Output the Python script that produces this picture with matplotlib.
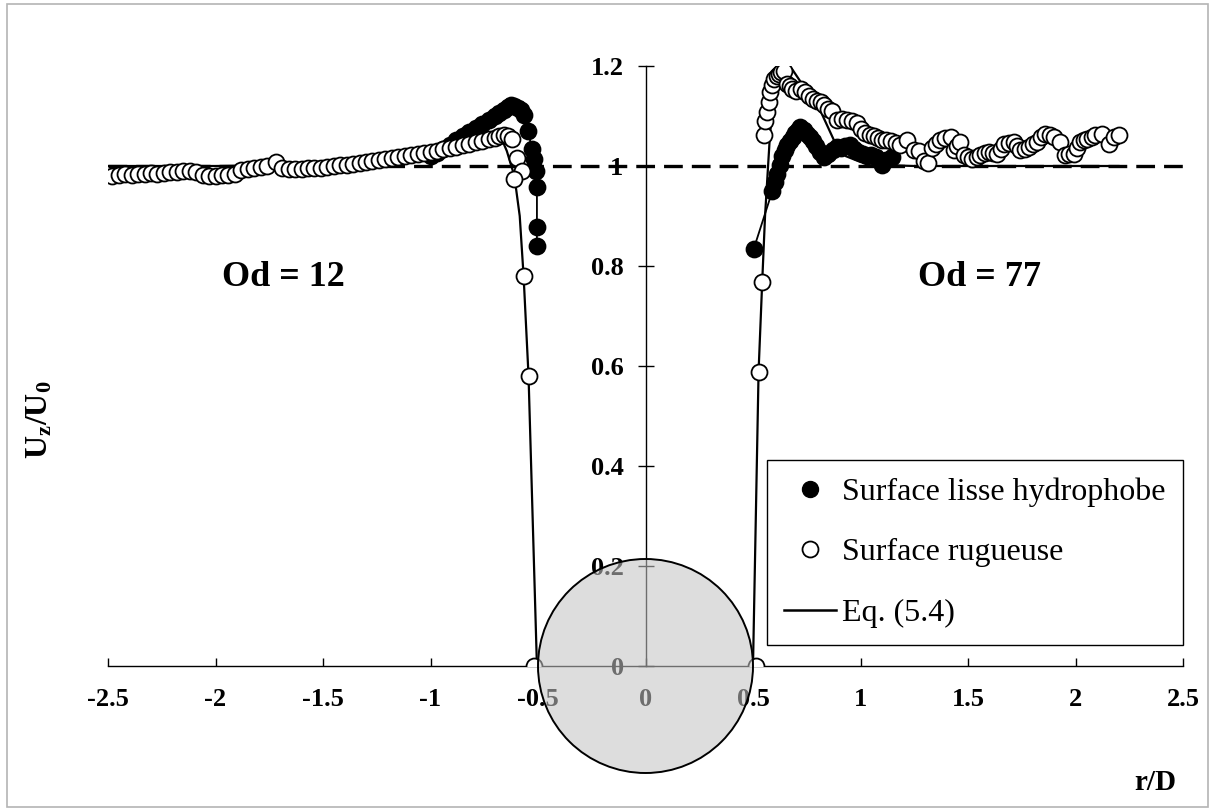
import matplotlib
matplotlib.use("Agg")
import matplotlib.pyplot as plt
from matplotlib.lines import Line2D
from matplotlib.patches import Ellipse, Rectangle

plt.rcParams["font.family"] = ["Liberation Serif", "DejaVu Serif"]
plt.rcParams["mathtext.fontset"] = "custom"
plt.rcParams["mathtext.rm"] = "Liberation Serif"
plt.rcParams["mathtext.bf"] = "Liberation Serif:bold"
plt.rcParams["mathtext.it"] = "Liberation Serif:italic"
plt.rcParams["lines.scale_dashes"] = False

# ---- data ----
# Od = 12, surface rugueuse (open markers)
rug12_x = [-2.48, -2.45, -2.42, -2.39, -2.36, -2.33, -2.30, -2.27, -2.24, -2.21,
           -2.18, -2.15, -2.12, -2.09, -2.06, -2.03, -2.00, -1.97, -1.94, -1.91,
           -1.88, -1.85, -1.82, -1.79, -1.76, -1.72, -1.69, -1.66, -1.63, -1.60,
           -1.57, -1.54, -1.51, -1.48, -1.45, -1.42, -1.39, -1.36, -1.33, -1.30,
           -1.27, -1.24, -1.21, -1.18, -1.15, -1.12, -1.09, -1.06, -1.03, -1.00,
           -0.97, -0.94, -0.91, -0.88, -0.85, -0.82, -0.79, -0.76, -0.73, -0.70,
           -0.68, -0.66, -0.64, -0.62, -0.60, -0.575, -0.61, -0.567, -0.544, -0.52]
rug12_y = [0.980, 0.982, 0.984, 0.983, 0.985, 0.984, 0.986, 0.985, 0.987, 0.989,
           0.988, 0.990, 0.991, 0.988, 0.982, 0.980, 0.981, 0.983, 0.982, 0.985,
           0.992, 0.995, 0.997, 0.998, 1.000, 1.008, 0.996, 0.994, 0.995, 0.995,
           0.996, 0.997, 0.997, 0.998, 1.000, 1.002, 1.003, 1.005, 1.006, 1.008,
           1.010, 1.012, 1.014, 1.016, 1.018, 1.020, 1.022, 1.024, 1.027, 1.029,
           1.031, 1.034, 1.036, 1.039, 1.042, 1.045, 1.048, 1.051, 1.054, 1.057,
           1.060, 1.062, 1.060, 1.055, 1.017, 0.990, 0.975, 0.780, 0.580, 0.0]

# Od = 12, surface lisse hydrophobe (filled markers)
lis12_x = [-1.00, -0.97, -0.94, -0.91, -0.88, -0.85, -0.82, -0.79, -0.76, -0.73,
           -0.70, -0.68, -0.66, -0.64, -0.625, -0.61, -0.595, -0.58, -0.565, -0.545,
           -0.53, -0.52, -0.51, -0.505, -0.505, -0.505]
lis12_y = [1.020, 1.027, 1.035, 1.043, 1.052, 1.060, 1.068, 1.076, 1.084, 1.092,
           1.100, 1.106, 1.112, 1.118, 1.122, 1.120, 1.117, 1.112, 1.102, 1.070,
           1.035, 1.015, 0.990, 0.958, 0.878, 0.840]

# Od = 77, surface lisse hydrophobe (filled markers)
lis77_x = [0.504, 0.59, 0.60, 0.612, 0.624, 0.636, 0.648, 0.66, 0.672, 0.684,
           0.696, 0.708, 0.72, 0.735, 0.75, 0.765, 0.78, 0.795, 0.81, 0.83,
           0.85, 0.87, 0.89, 0.91, 0.93, 0.95, 0.97, 0.99, 1.01, 1.03,
           1.05, 1.07, 1.09, 1.10, 1.12, 1.147]
lis77_y = [0.835, 0.950, 0.968, 0.985, 1.003, 1.020, 1.032, 1.042, 1.050, 1.058,
           1.066, 1.073, 1.079, 1.072, 1.064, 1.058, 1.050, 1.040, 1.028, 1.019,
           1.025, 1.033, 1.039, 1.036, 1.040, 1.042, 1.035, 1.028, 1.024, 1.021,
           1.022, 1.018, 1.010, 1.003, 1.012, 1.019]

# Od = 77, surface rugueuse (open markers)
rug77_x = [0.512, 0.526, 0.543, 0.55, 0.558, 0.566, 0.574, 0.581, 0.589, 0.597,
           0.61, 0.62, 0.632, 0.643, 0.659, 0.672, 0.682, 0.70, 0.721, 0.74,
           0.76, 0.78, 0.798, 0.815, 0.829, 0.85, 0.868, 0.891, 0.915, 0.938,
           0.96, 0.984, 1.003, 1.023, 1.042, 1.062, 1.08, 1.10, 1.12, 1.14,
           1.163, 1.186, 1.217, 1.248, 1.271, 1.295, 1.315, 1.333, 1.352, 1.372,
           1.395, 1.419, 1.434, 1.45, 1.465, 1.481, 1.50, 1.52, 1.54, 1.558,
           1.578, 1.597, 1.617, 1.636, 1.652, 1.667, 1.69, 1.713, 1.728, 1.744,
           1.763, 1.783, 1.80, 1.822, 1.84, 1.86, 1.88, 1.90, 1.93, 1.953,
           1.972, 1.992, 2.008, 2.023, 2.04, 2.054, 2.075, 2.093, 2.124, 2.155,
           2.178, 2.20]
rug77_y = [0.0, 0.588, 0.768, 1.062, 1.09, 1.109, 1.129, 1.149, 1.163, 1.175,
           1.18, 1.185, 1.188, 1.19, 1.165, 1.16, 1.155, 1.15, 1.155, 1.148,
           1.14, 1.135, 1.13, 1.128, 1.123, 1.115, 1.11, 1.093, 1.095, 1.093,
           1.09, 1.087, 1.075, 1.067, 1.063, 1.06, 1.057, 1.053, 1.052, 1.05,
           1.047, 1.043, 1.053, 1.033, 1.03, 1.01, 1.007, 1.037, 1.045, 1.053,
           1.057, 1.059, 1.032, 1.04, 1.049, 1.022, 1.018, 1.015, 1.018, 1.022,
           1.026, 1.029, 1.027, 1.025, 1.035, 1.045, 1.047, 1.049, 1.04, 1.032,
           1.035, 1.039, 1.044, 1.049, 1.058, 1.065, 1.062, 1.059, 1.049, 1.022,
           1.024, 1.025, 1.037, 1.049, 1.052, 1.055, 1.059, 1.062, 1.065, 1.045,
           1.059, 1.062]

# Eq. (5.4)
eq12_x = [-2.5, -2.0, -1.6, -1.3, -1.1, -0.95, -0.85, -0.76, -0.70, -0.665,
          -0.645, -0.61, -0.585, -0.567, -0.544, -0.505]
eq12_y = [1.0, 1.0, 1.002, 1.008, 1.016, 1.026, 1.036, 1.048, 1.055, 1.05,
          1.03, 0.98, 0.9, 0.78, 0.58, 0.0]
eq77_x = [0.5, 0.526, 0.543, 0.556, 0.58, 0.61, 0.645, 0.68, 0.75, 0.814,
          0.876, 0.93, 1.0, 1.1, 1.25, 1.6, 2.2]
eq77_y = [0.0, 0.59, 0.77, 0.9, 1.07, 1.15, 1.19, 1.195, 1.15, 1.11,
          1.052, 1.02, 1.008, 1.002, 1.0, 1.0, 1.0]

xticks = [-2.5, -2, -1.5, -1, -0.5, 0, 0.5, 1, 1.5, 2, 2.5]
xticklabels = ["-2.5", "-2", "-1.5", "-1", "-0.5", "0", "0.5", "1", "1.5", "2", "2.5"]
yticks = [0, 0.2, 0.4, 0.6, 0.8, 1.0, 1.2]
yticklabels = ["0", "0.2", "0.4", "0.6", "0.8", "1", "1.2"]

W, H = 1213, 810
fig = plt.figure(figsize=(W / 100, H / 100), dpi=100)
ax = fig.add_axes([108 / W, 1 - 666 / H, (1183 - 108) / W, (666 - 66) / H])
ax.set_xlim(-2.5, 2.5)
ax.set_ylim(0, 1.2)

# reference line U/U0 = 1
ax.plot([-2.5, 2.5], [1, 1], color="k", lw=2.4, dashes=[13.5, 6.5], zorder=1)

# Eq. (5.4)
ax.plot(eq12_x, eq12_y, color="k", lw=1.6, zorder=2)
ax.plot(eq77_x, eq77_y, color="k", lw=1.6, zorder=2)

mk = dict(marker="o", ms=11.5, mew=1.3, mec="k")
for xs, ys in ((lis12_x, lis12_y), (lis77_x, lis77_y)):
    ax.plot(xs, ys, color="k", lw=1.3, mfc="k", zorder=3, **mk)
for xs, ys in ((rug12_x, rug12_y), (rug77_x, rug77_y)):
    ax.plot(xs, ys, ls="none", mfc="white", zorder=4, **mk)

ax.text(-1.684, 0.778, "Od = 12", fontsize=26, fontweight="bold", ha="center", va="center")
ax.text(1.553, 0.778, "Od = 77", fontsize=26, fontweight="bold", ha="center", va="center")

# axes through the origin
for s in ("top", "right"):
    ax.spines[s].set_visible(False)
ax.spines["left"].set_position(("data", 0))
ax.spines["bottom"].set_position(("data", 0))
ax.spines["left"].set_linewidth(1.0)
ax.spines["bottom"].set_linewidth(1.0)
ax.set_xticks(xticks)
ax.set_xticklabels(xticklabels, fontweight="bold", fontsize=19)
ax.set_yticks(yticks)
ax.set_yticklabels(yticklabels, fontweight="bold", fontsize=19)
ax.tick_params(axis="x", direction="in", length=6, width=1.0, pad=15.5)
ax.tick_params(axis="y", direction="inout", length=11.5, width=1.0, pad=10)

handles = [
    Line2D([], [], ls="none", marker="o", ms=11.5, mfc="k", mec="k"),
    Line2D([], [], ls="none", marker="o", ms=11.5, mfc="white", mec="k", mew=1.3),
    Line2D([], [], color="k", lw=1.8),
]
leg = ax.legend(handles, ["Surface lisse hydrophobe", "Surface rugueuse", "Eq. (5.4)"],
                loc="upper right", bbox_to_anchor=(1.0, (666 - 460) / 600),
                borderaxespad=0, fontsize=23, frameon=True, fancybox=False,
                edgecolor="k", framealpha=1, handlelength=1.6, handletextpad=0.2,
                borderpad=0.55, labelspacing=0.97)
leg.get_frame().set_linewidth(1.0)

# sphere drawn over the axes, semi transparent
sphere = Ellipse((0, 0), 1.0, 2 * 107 / 500, transform=ax.transData,
                 facecolor=(0.765, 0.765, 0.765, 0.56), edgecolor="k", lw=1.4,
                 zorder=5, clip_on=False)
fig.add_artist(sphere)

fig.text(1155 / W, 1 - 782 / H, "r/D", fontsize=21, fontweight="bold", ha="center", va="center")
fig.text(40 / W, 1 - 420 / H, r"$\mathbf{U_z/U_0}$", fontsize=23, rotation=90,
         ha="center", va="center")

fig.add_artist(Rectangle((7 / W, 3 / H), (1208 - 7) / W, (806 - 3) / H,
                         transform=fig.transFigure, fill=False,
                         edgecolor="#b4b4b4", lw=1.2))

fig.savefig("out.png", dpi=100)
